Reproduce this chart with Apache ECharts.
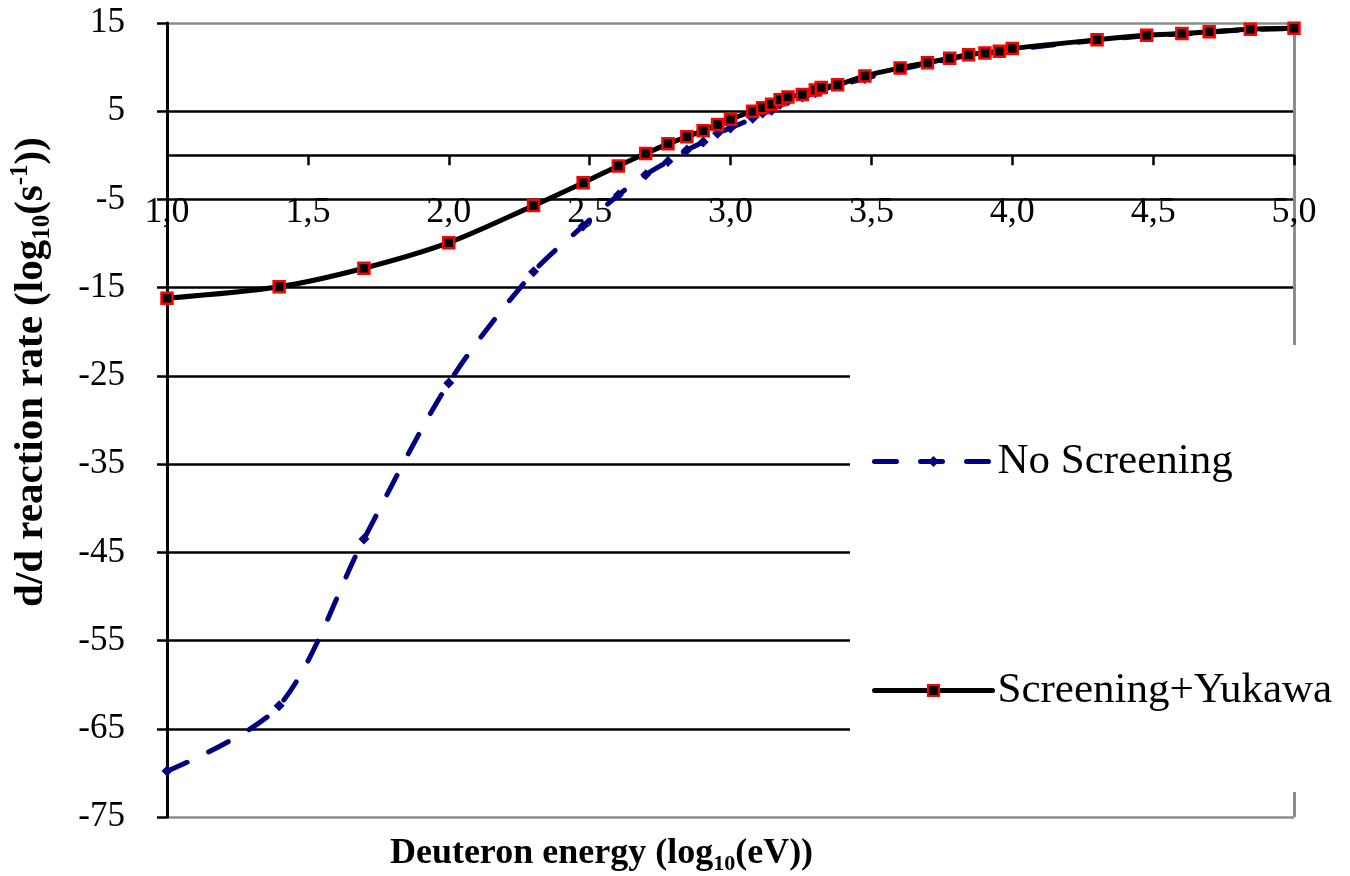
<!DOCTYPE html>
<html>
<head>
<meta charset="utf-8">
<title>d/d reaction rate</title>
<script src="https://cdn.jsdelivr.net/npm/echarts@6/dist/echarts.min.js"></script>
<style>
  html, body { margin: 0; padding: 0; background: #fff; }
  #chart { width: 1350px; height: 876px; }
</style>
</head>
<body>
<div id="chart"></div>
<script>
// deuteron energy, log10(eV)
var energyLog = [1.0, 1.398, 1.699, 2.0, 2.301, 2.477, 2.602, 2.699, 2.778, 2.845, 2.903, 2.954,
  3.0, 3.079, 3.114, 3.146, 3.176, 3.204, 3.255, 3.301, 3.322, 3.380, 3.477, 3.602, 3.699,
  3.778, 3.845, 3.903, 3.954, 4.0, 4.301, 4.477, 4.602, 4.699, 4.845, 5.0];

// reaction rate, log10(s^-1)
var noScreening = [-69.8, -62.4, -43.5, -25.8, -13.2, -8.0, -4.5, -2.2, -0.7, 0.6, 1.5, 2.5,
  3.1, 4.2, 4.8, 5.1, 5.8, 6.2, 6.6, 7.1, 7.4, 7.9, 8.7, 9.75, 10.4,
  10.9, 11.35, 11.55, 11.75, 12.0, 13.05, 13.55, 13.75, 13.95, 14.25, 14.35];

var screeningYukawa = [-16.2, -14.9, -12.8, -9.9, -5.7, -3.1, -1.2, 0.2, 1.3, 2.1, 2.8, 3.5,
  4.1, 5.0, 5.4, 5.8, 6.3, 6.6, 6.9, 7.4, 7.7, 8.0, 9.0, 9.9, 10.5,
  11.0, 11.4, 11.6, 11.8, 12.1, 13.1, 13.6, 13.8, 14.0, 14.3, 14.4];

var seriesNames = ['No Screening', 'Screening+Yukawa'];
var xMin = 1, xMax = 5, xStep = 0.5;
var yMin = -75, yMax = 15, yStep = 10;

var serif = 'Liberation Serif, Times New Roman, serif';
var navy = '#000080';
var dash = [22, 24];

function pairs(ys) {
  return energyLog.map(function (x, i) { return [x, ys[i]]; });
}

function titleRich(size) {
  var small = Math.round(size * 0.62);
  return {
    b: {fontFamily: serif, fontWeight: 'bold', fontSize: size, lineHeight: size + 6, color: '#000'},
    s: {fontFamily: serif, fontWeight: 'bold', fontSize: small, lineHeight: small, verticalAlign: 'bottom', color: '#000'},
    p: {fontFamily: serif, fontWeight: 'bold', fontSize: small, lineHeight: small, verticalAlign: 'top', color: '#000'}
  };
}

// gray frame on top/bottom, black grid in between
var yGridColors = ['#8c8c8c', '#000', '#000', '#000', '#000', '#000', '#000', '#000', '#000', '#8c8c8c'];
var xGridColors = ['transparent', 'transparent', 'transparent', 'transparent', 'transparent',
  'transparent', 'transparent', 'transparent', '#8c8c8c'];

var chart = echarts.init(document.getElementById('chart'));
chart.setOption({
  animation: false,
  backgroundColor: '#fff',
  grid: {left: 167, right: 56, top: 23, bottom: 59, containLabel: false, outerBoundsMode: 'none'},
  legend: {
    orient: 'vertical',
    left: 850,
    top: 345,
    padding: [95, 10, 80, 22],
    itemGap: 186,
    itemWidth: 118,
    itemHeight: 14,
    backgroundColor: '#fff',
    textStyle: {fontFamily: serif, fontSize: 43, color: '#000'},
    data: [
      {name: seriesNames[0], lineStyle: {color: navy, width: 5, type: dash, cap: 'round'}},
      {name: seriesNames[1], lineStyle: {color: '#000', width: 5, cap: 'round'}}
    ]
  },
  xAxis: {
    type: 'value',
    min: xMin,
    max: xMax,
    interval: xStep,
    name: '{b|Deuteron energy (log}{s|10}{b|(eV))}',
    nameLocation: 'middle',
    nameGap: 16,
    nameTextStyle: {padding: [0, 258, 0, 0], rich: titleRich(36)},
    axisLine: {onZero: true, lineStyle: {color: '#000', width: 2.5}},
    axisTick: {show: true, length: 10, lineStyle: {color: '#000', width: 2.5}},
    // labels sit just under the zero line, as in the source
    axisLabel: {
      margin: -622, fontFamily: serif, fontSize: 36, color: '#000',
      formatter: function (v) { return v.toFixed(1).replace('.', ','); }
    },
    splitLine: {show: true, lineStyle: {color: xGridColors, width: 3}}
  },
  yAxis: {
    type: 'value',
    min: yMin,
    max: yMax,
    interval: yStep,
    name: '{b|d/d reaction rate (log}{s|10}{b|(s}{p|-1}{b|))}',
    nameLocation: 'middle',
    nameGap: 112,
    nameTextStyle: {padding: [0, 0, 0, 96], rich: titleRich(41)},
    axisLine: {show: true, onZero: false, lineStyle: {color: '#000', width: 3}},
    axisTick: {show: true, length: 10, lineStyle: {color: '#000', width: 2.5}},
    axisLabel: {margin: 42, fontFamily: serif, fontSize: 35, color: '#000'},
    splitLine: {show: true, lineStyle: {color: yGridColors, width: 2.5}}
  },
  series: [
    {
      name: seriesNames[0],
      type: 'line',
      data: pairs(noScreening),
      smooth: 0.3,
      symbol: 'diamond',
      symbolSize: 11,
      itemStyle: {color: navy},
      lineStyle: {color: navy, width: 5, type: dash, cap: 'round'}
    },
    {
      name: seriesNames[1],
      type: 'line',
      data: pairs(screeningYukawa),
      smooth: 0.3,
      symbol: 'rect',
      symbolSize: 11,
      itemStyle: {color: '#000', borderColor: '#ff0000', borderWidth: 2.5},
      lineStyle: {color: '#000', width: 5}
    }
  ]
});
</script>
</body>
</html>
